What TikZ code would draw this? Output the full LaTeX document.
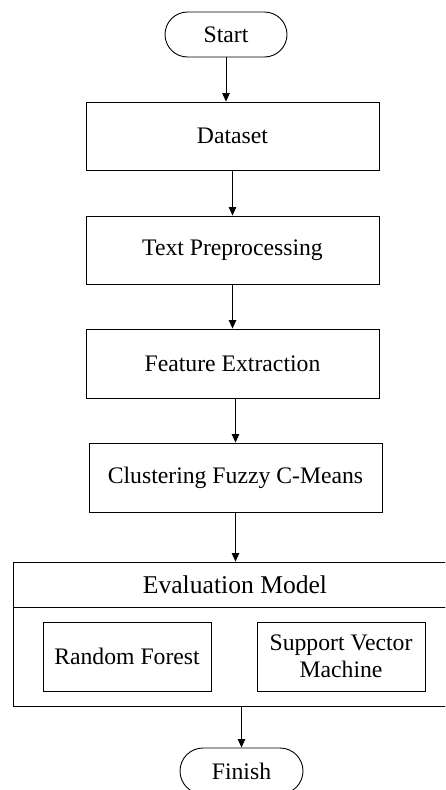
\documentclass[tikz,border=0pt]{standalone}
\usepackage{fontspec}
\setmainfont{Liberation Serif}
\usetikzlibrary{arrows.meta,shapes.misc}
\tikzset{
  box/.style={draw, rectangle, line width=0.9pt, inner sep=0pt, align=center,
    font=\fontsize{23.7}{27.5}\selectfont},
  term/.style={draw, rounded rectangle, line width=0.9pt, inner sep=0pt,
    font=\fontsize{23.7}{27.5}\selectfont},
  flow/.style={-{Triangle[width=7.5pt,length=8.5pt]}, line width=0.9pt},
}
\begin{document}
\begin{tikzpicture}[x=1pt,y=-1pt]
\clip (0,0) rectangle (445,790);
\node[term, minimum width=122pt, minimum height=45pt] (start) at (226,34.5) {Start};
\node[box, minimum width=293pt, minimum height=68pt] (dataset) at (232.5,136) {Dataset};
\node[box, minimum width=293pt, minimum height=68pt] (textpre) at (232.5,250) {Text Preprocessing};
\node[box, minimum width=293pt, minimum height=69pt] (feature) at (232.5,363.5) {Feature Extraction};
\node[box, minimum width=293pt, minimum height=69pt] (cluster) at (235.5,477.5) {Clustering Fuzzy C-Means};
\node[box, minimum width=444pt, minimum height=45pt, font=\fontsize{25.6}{28}\selectfont] (evalhead) at (235,584.5) {Evaluation Model};
\node[box, minimum width=444pt, minimum height=99pt] (evalbody) at (235,656.5) {};
\node[box, minimum width=168pt, minimum height=69pt] (rf) at (127,656.5) {Random Forest};
\node[box, minimum width=168pt, minimum height=69pt] (svm) at (341,656.5) {Support Vector\\Machine};
\node[term, minimum width=123pt, minimum height=46pt] (finish) at (241.5,771) {Finish};
\draw[flow] (start.south) -- (start.south |- dataset.north);
\draw[flow] (dataset.south) -- (textpre.north);
\draw[flow] (textpre.south) -- (feature.north);
\draw[flow] (cluster.north |- feature.south) -- (cluster.north);
\draw[flow] (cluster.south) -- (cluster.south |- evalhead.north);
\draw[flow] (finish.north |- evalbody.south) -- (finish.north);
\end{tikzpicture}
\end{document}
